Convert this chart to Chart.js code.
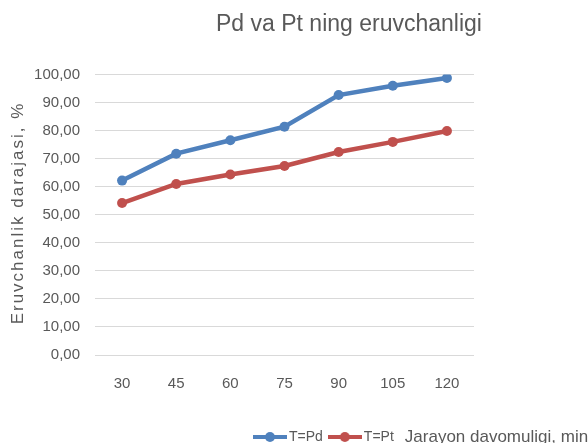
<!DOCTYPE html>
<html>
<head>
<meta charset="utf-8">
<script src="https://cdn.jsdelivr.net/npm/chart.js@4.4.0/dist/chart.umd.min.js"></script>
<style>
html, body { margin: 0; padding: 0; background: #fff; overflow: hidden; }
</style>
</head>
<body>
<canvas id="chartLine" width="588" height="443"></canvas>
<script>
// Ma'lumotlar
var categories = ['30', '45', '60', '75', '90', '105', '120'];
var pdValues = [62.2, 71.8, 76.6, 81.4, 92.7, 96.0, 98.8];
var ptValues = [54.2, 61.0, 64.4, 67.4, 72.4, 76.0, 79.9];
var yTickLabels = ['0,00', '10,00', '20,00', '30,00', '40,00', '50,00',
                   '60,00', '70,00', '80,00', '90,00', '100,00'];
var seriesNames = ['T=Pd', 'T=Pt'];
var titleText = 'Pd va Pt ning eruvchanligi';
var yTitleText = 'Eruvchanlik darajasi, %';
var xTitleText = 'Jarayon davomuligi, min';

var blue = '#4F81BD';
var red = '#C0504D';
var textGray = '#595959';
var font = "'Liberation Sans', Arial, sans-serif";

// legend uchun chiziq + nuqta belgisi
function makeIcon(color) {
    var c = document.createElement('canvas');
    c.width = 34;
    c.height = 12;
    var g = c.getContext('2d');
    g.strokeStyle = color;
    g.lineWidth = 4;
    g.beginPath();
    g.moveTo(0, 6);
    g.lineTo(34, 6);
    g.stroke();
    g.fillStyle = color;
    g.beginPath();
    g.arc(17, 6, 5, 0, Math.PI * 2);
    g.fill();
    return c;
}
var icons = [makeIcon(blue), makeIcon(red)];

// sarlavha va legendni joylashtirish, o'q nomlarini chizish
var placePlugin = {
    id: 'placeBoxes',
    afterLayout: function (chart) {
        var t = chart.titleBlock;
        var tw = t.right - t.left;
        t.left = 349 - tw / 2;
        t.right = t.left + tw;

        var lg = chart.legend;
        var lw = lg.width, lh = lg.height;
        lg.left = 248;
        lg.right = lg.left + lw;
        lg.top = 420;
        lg.bottom = lg.top + lh;
    },
    afterDraw: function (chart) {
        var ctx = chart.ctx;
        var boxes = chart.legend.legendHitBoxes;
        var last = boxes[boxes.length - 1];
        ctx.save();
        ctx.fillStyle = textGray;
        ctx.font = '17px ' + font;
        ctx.textBaseline = 'middle';
        ctx.textAlign = 'left';
        ctx.fillText(xTitleText, last.left + last.width + 11, last.top + last.height / 2);

        ctx.translate(18, 213);
        ctx.rotate(-Math.PI / 2);
        ctx.font = '17px ' + font;
        ctx.letterSpacing = '2px';
        ctx.textAlign = 'center';
        ctx.fillText(yTitleText, 0, 0);
        ctx.restore();
    }
};

var lineChart = new Chart(document.getElementById('chartLine'), {
    type: 'line',
    data: {
        labels: categories,
        datasets: [
            {
                label: seriesNames[0],
                data: pdValues,
                borderColor: blue,
                backgroundColor: blue,
                borderWidth: 4.5,
                pointRadius: 5,
                pointBorderWidth: 0,
                pointHoverRadius: 5
            },
            {
                label: seriesNames[1],
                data: ptValues,
                borderColor: red,
                backgroundColor: red,
                borderWidth: 4.5,
                pointRadius: 5,
                pointBorderWidth: 0,
                pointHoverRadius: 5
            }
        ]
    },
    options: {
        responsive: false,
        animation: false,
        devicePixelRatio: 1,
        layout: {
            padding: { left: 0, right: 114, top: 0, bottom: -4 }
        },
        plugins: {
            title: {
                display: true,
                text: titleText,
                color: textGray,
                font: { family: font, size: 23, weight: 'normal' },
                padding: { top: 11, bottom: 36 }
            },
            legend: {
                position: 'bottom',
                align: 'start',
                labels: {
                    usePointStyle: true,
                    pointStyleWidth: 24,
                    padding: 10,
                    color: textGray,
                    font: { family: font, size: 14 },
                    generateLabels: function (chart) {
                        var items = Chart.defaults.plugins.legend.labels.generateLabels(chart);
                        items.forEach(function (it, i) { it.pointStyle = icons[i]; });
                        return items;
                    }
                }
            },
            tooltip: { enabled: false }
        },
        scales: {
            x: {
                offset: true,
                grid: { display: false, drawTicks: false },
                border: { display: false },
                ticks: {
                    color: textGray,
                    padding: 20,
                    font: { family: font, size: 15 }
                }
            },
            y: {
                min: 0,
                max: 100,
                afterFit: function (scale) { scale.width = 95; },
                grid: { color: '#D9D9D9', lineWidth: 1, drawTicks: false },
                border: { display: false },
                ticks: {
                    stepSize: 10,
                    padding: 15,
                    color: textGray,
                    font: { family: font, size: 15 },
                    callback: function (value, index) { return yTickLabels[index]; }
                }
            }
        }
    },
    plugins: [placePlugin]
});
</script>
</body>
</html>
